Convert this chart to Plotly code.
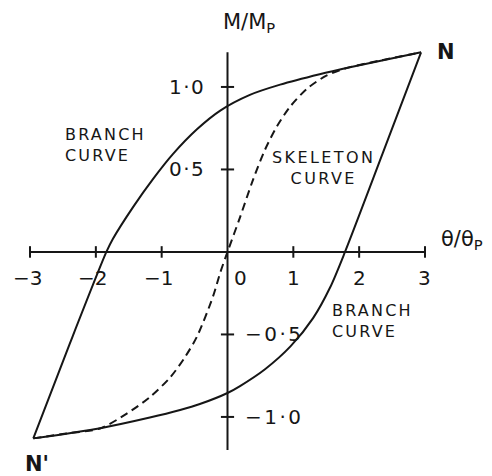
import plotly.graph_objects as go

# Skeleton curve (dashed): from N' through the origin to N
skel_theta = [-2.95, -2.45, -1.94, -1.53, -1.18, -0.87, -0.65, -0.46, -0.22, -0.11, 0.0,
              0.19, 0.39, 0.57, 0.75, 0.95, 1.21, 1.51, 1.86, 2.32, 2.94]
skel_m = [-1.13, -1.10, -1.07, -0.98, -0.88, -0.76, -0.64, -0.51, -0.27, -0.125, 0.0,
          0.21, 0.44, 0.62, 0.76, 0.88, 0.99, 1.07, 1.12, 1.16, 1.21]

# Upper branch curve: N' -> N
up_theta = [-2.95, -2.40, -1.84, -1.74, -1.43, -1.13, -0.83, -0.46, -0.11, 0.34, 0.80, 1.40, 1.86, 2.94]
up_m = [-1.13, -0.56, 0.0, 0.08, 0.275, 0.443, 0.593, 0.745, 0.857, 0.952, 1.014, 1.077, 1.119, 1.21]

# Lower branch curve: N -> N'
lo_theta = [2.94, 2.36, 1.785, 1.56, 1.30, 0.96, 0.57, 0.19, 0.0, -0.42, -0.72, -1.18, -1.93, -2.95]
lo_m = [1.21, 0.60, 0.0, -0.214, -0.401, -0.571, -0.711, -0.813, -0.855, -0.922, -0.958, -1.004, -1.068, -1.13]

# Axes and ticks
x_ticks = [-3, -2, -1, 1, 2, 3]
x_tick_labels = ["\u22123", "\u22122", "\u22121", "1", "2", "3"]
y_ticks = [1.0, 0.5, -0.5, -1.0]
y_tick_labels = ["1·0", "0·5", "\u22120·5", "\u22121·0"]
theta_axis_span = [-3, 3]
m_axis_span = [-1.2, 1.21]

INK = "#161616"
FONT = "DejaVu Sans"


def spaced(text, px):
    return f'<span style="letter-spacing:{px}px">{text}</span>'


fig = go.Figure()
fig.add_trace(go.Scatter(x=skel_theta, y=skel_m, mode="lines",
                         line=dict(color=INK, width=2, dash="8px,5px", shape="spline", smoothing=0.8)))
fig.add_trace(go.Scatter(x=up_theta, y=up_m, mode="lines",
                         line=dict(color=INK, width=2, shape="spline", smoothing=0.8)))
fig.add_trace(go.Scatter(x=lo_theta, y=lo_m, mode="lines",
                         line=dict(color=INK, width=2, shape="spline", smoothing=0.8)))

shapes = []
axis_line = dict(color=INK, width=2)
shapes.append(dict(type="line", xref="x", yref="y", x0=theta_axis_span[0], x1=theta_axis_span[1],
                   y0=0, y1=0, line=axis_line))
shapes.append(dict(type="line", xref="x", yref="y", x0=0, x1=0,
                   y0=m_axis_span[0], y1=m_axis_span[1], line=axis_line))
for t in x_ticks:
    shapes.append(dict(type="line", xref="x", yref="y", x0=t, x1=t, y0=-0.035, y1=0.035, line=axis_line))
for m in y_ticks:
    shapes.append(dict(type="line", xref="x", yref="y", x0=-0.1, x1=0.1, y0=m, y1=m, line=axis_line))

ann = []
tick_font = dict(family=FONT, size=20, color=INK)
for t, lab in zip(x_ticks, x_tick_labels):
    ann.append(dict(x=t, y=0, text=lab, showarrow=False, yanchor="top", yshift=-12,
                    xanchor="center", xshift=-3 if t < 0 else 0, font=tick_font))
ann.append(dict(x=0, y=0, text="0", showarrow=False, yanchor="top", yshift=-12,
                xanchor="left", xshift=4, font=tick_font))
for m, lab in zip(y_ticks, y_tick_labels):
    if m > 0:
        ann.append(dict(x=0, y=m, text=spaced(lab, 1.5), showarrow=False, xanchor="right", xshift=-21,
                        yanchor="middle", font=tick_font))
    else:
        ann.append(dict(x=0, y=m, text=spaced(lab, 2.5), showarrow=False, xanchor="left", xshift=15,
                        yanchor="middle", font=tick_font))

label_font = dict(family=FONT, size=16, color=INK)
ann.append(dict(x=-2.50, y=0.65, text=spaced("BRANCH", 2.2) + "<br>" + spaced("CURVE", 2.2),
                showarrow=False, xanchor="left", align="left", font=label_font))
ann.append(dict(x=1.46, y=0.506, text=spaced("SKELETON", 2.4) + "<br>" + spaced("CURVE", 2.4),
                showarrow=False, xanchor="center", align="center", font=label_font))
ann.append(dict(x=1.56, y=-0.42, text=spaced("BRANCH", 2.2) + "<br>" + spaced("CURVE", 2.2),
                showarrow=False, xanchor="left", align="left", font=label_font))

point_font = dict(family=FONT, size=21, color=INK, weight="bold")
ann.append(dict(x=up_theta[-1], y=up_m[-1], text="N", showarrow=False, xanchor="left", xshift=14,
                yanchor="middle", font=point_font))
ann.append(dict(x=up_theta[0], y=up_m[0], text="N'", showarrow=False, xanchor="center", xshift=4,
                yanchor="top", yshift=-12, font=point_font))

title_font = dict(family=FONT, size=21, color=INK)
ann.append(dict(x=0.33, y=1.39, text="M/M<sub>P</sub>", showarrow=False, xanchor="center",
                yanchor="middle", font=title_font))
ann.append(dict(x=3.56, y=0.07, text="θ/θ<sub>P</sub>", showarrow=False, xanchor="center",
                yanchor="middle", font=title_font))

fig.update_layout(
    width=492, height=476,
    margin=dict(l=0, r=0, t=0, b=0),
    paper_bgcolor="white", plot_bgcolor="white",
    showlegend=False,
    xaxis=dict(visible=False, range=[-3.456, 4.018], fixedrange=True),
    yaxis=dict(visible=False, range=[-1.358, 1.527], fixedrange=True),
    shapes=shapes,
    annotations=ann,
)

fig.write_html("out.html")
